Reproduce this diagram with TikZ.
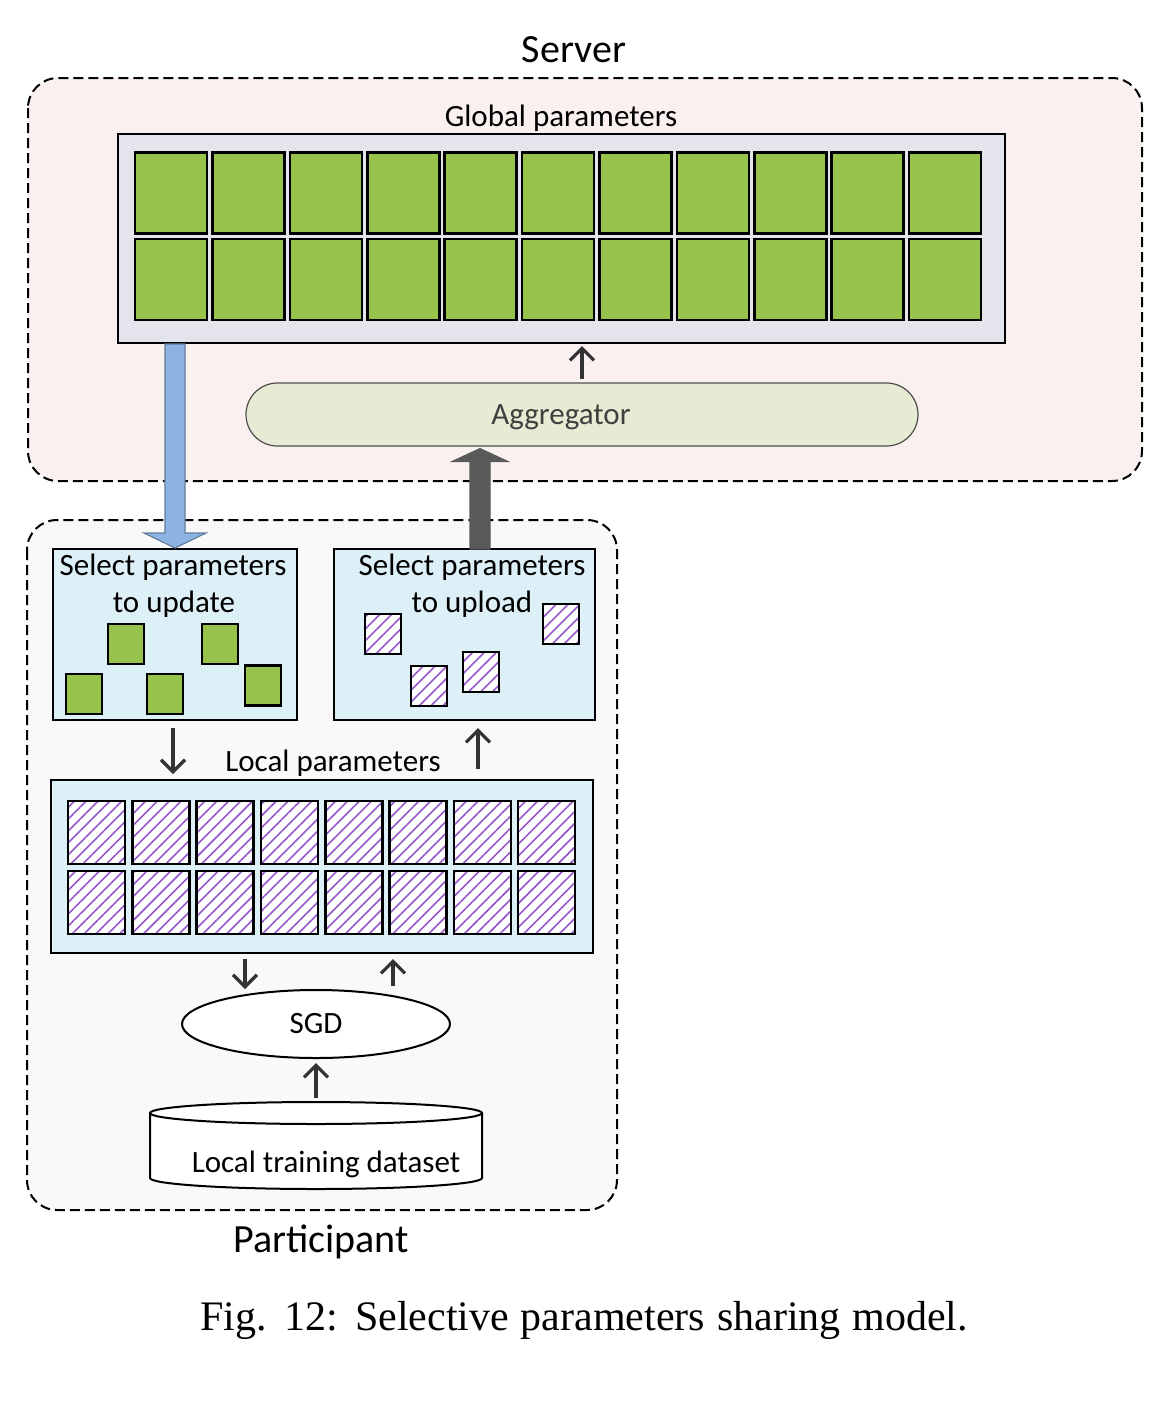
\documentclass[tikz,border=0pt]{standalone}
\usepackage{fontspec}
\setmainfont{Carlito}
\newfontfamily\capfont{Liberation Serif}
\usetikzlibrary{shapes.geometric,arrows.meta,calc,patterns.meta}

\definecolor{srvbg}{HTML}{FBF0F0}
\definecolor{partbg}{HTML}{F9F9F9}
\definecolor{globbg}{HTML}{E4E4EC}
\definecolor{parmgreen}{HTML}{97C34D}
\definecolor{panelbg}{HTML}{DEF0F7}
\definecolor{aggbg}{HTML}{E7EBD3}
\definecolor{downblue}{HTML}{8DB3E2}
\definecolor{upgray}{HTML}{595959}
\definecolor{hatch}{HTML}{9457CC}

\tikzset{
  zone/.style={draw, dash pattern=on 5pt off 2.5pt, line width=1pt, rounded corners=15pt},
  panel/.style={draw, line width=1pt, inner sep=0pt},
  gsq/.style={draw, fill=parmgreen, line width=1.3pt, inner sep=0pt},
  hsq/.style={draw, line width=1.3pt, inner sep=0pt, preaction={fill=white},
    pattern={Lines[angle=45, distance=4.2pt, line width=0.8pt]}, pattern color=hatch},
  lbl/.style={font=\fontsize{15.5}{18.5}\selectfont, inner sep=0pt},
  ttl/.style={font=\fontsize{20}{24}\selectfont, inner sep=0pt},
  flow/.style={-{Straight Barb[length=6pt, width=12pt]}, line width=1.6pt, draw=black!80},
}

\begin{document}
\begin{tikzpicture}[x=0.5pt, y=-0.5pt]
  \useasboundingbox (0,0) rectangle (1166,1410);

  % server side
  \draw[zone, fill=srvbg] (28,78) rectangle (1142,481);
  \node[ttl, anchor=base] (srv) at (574,62) {Server};
  \node[lbl, anchor=base] (globtext) at (561,126) {Global parameters};
  \node[panel, fill=globbg, minimum width=443.5pt, minimum height=104.5pt] (glob) at (561.5,238.5) {};
  \foreach \c in {0,...,10}
    \foreach \r/\y in {1/193, 2/279.5}
      \node[gsq, minimum width=36pt, minimum height=40.5pt] (g\r-\c) at ({171+77.4*\c},\y) {};

  \node[panel, fill=aggbg, draw=black!70, line width=0.6pt, rounded corners=15.75pt,
    minimum width=336pt, minimum height=31.5pt] (agg) at (582,414.5) {};
  \node[lbl, anchor=base, text=black!75] (aggtext) at (561,424) {Aggregator};
  \draw[flow, shorten <=1.5pt, shorten >=1pt] (agg.north) -- (agg.north |- glob.south);

  % participant side
  \draw[zone, fill=partbg] (27,520) rectangle (617,1210);
  \node[ttl, anchor=base] (part) at (321,1252) {Participant};

  \node[panel, fill=panelbg, minimum width=122pt, minimum height=85.5pt] (upd) at (175,634.5) {};
  \node[panel, fill=panelbg, minimum width=130.5pt, minimum height=85.5pt] (upl) at (464.5,634.5) {};
  \node[lbl, anchor=base] (upd-a) at (173,575) {Select parameters};
  \node[lbl, anchor=base] (upd-b) at (174,612) {to update};
  \node[lbl, anchor=base] (upl-a) at (472,575) {Select parameters};
  \node[lbl, anchor=base] (upl-b) at (472,612) {to upload};

  \foreach \x/\y [count=\i] in {126/644, 220/644, 84/694, 165/694, 263/685.5}
    \node[gsq, minimum width=18pt, minimum height=20pt] (s\i) at (\x,\y) {};
  \foreach \x/\y [count=\i] in {383/634, 561/624, 429/686, 481/672}
    \node[hsq, minimum width=18pt, minimum height=20pt] (u\i) at (\x,\y) {};

  \node[lbl, anchor=base] (loctext) at (333,771) {Local parameters};
  \node[panel, fill=panelbg, minimum width=271pt, minimum height=86.5pt] (loc) at (322,866.5) {};
  \foreach \c in {0,...,7}
    \foreach \r/\y in {1/832.5, 2/902.5}
      \node[hsq, minimum width=28.5pt, minimum height=31.5pt] (h\r-\c) at ({96.5+64.3*\c},\y) {};

  \node[draw, ellipse, line width=1pt, fill=white, inner sep=0pt, minimum width=134pt,
    minimum height=34pt, font=\fontsize{15.5}{18.5}\selectfont] (sgd) at (316,1024) {SGD};

  \filldraw[fill=white, line width=1pt] (150,1113) -- ++(0,-32.5pt)
    arc[start angle=180, end angle=360, x radius=83pt, y radius=5.5pt] -- (482,1113);
  \node[draw, ellipse, line width=1pt, fill=white, inner sep=0pt, minimum width=166pt,
    minimum height=11pt] (dtop) at (316,1113) {};
  \node[lbl, anchor=base] (dtext) at (326,1172) {Local training dataset};

  \coordinate (dnA) at (173,0);
  \coordinate (upA) at (478,0);
  \coordinate (dnB) at (245,0);
  \coordinate (upB) at (393,0);
  \draw[flow, shorten <=3.5pt, shorten >=2.5pt] (upd.south -| dnA) -- (dnA |- loc.north);
  \draw[flow, shorten <=5pt, shorten >=3.5pt] (loc.north -| upA) -- (upA |- upl.south);
  \draw[flow, shorten <=2.5pt, shorten >=0pt] (loc.south -| dnB) -- (dnB |- sgd.north);
  \draw[flow, shorten <=1.5pt, shorten >=2.5pt] (upB |- sgd.north) -- (loc.south -| upB);
  \draw[flow, shorten <=1.5pt, shorten >=2pt] (dtop.north) -- (sgd.south);

  % block arrows between server and participant
  \draw[fill=downblue, draw=downblue!70!black, line width=0.6pt]
    let \p1=(glob.south -| upd.north), \p2=(upd.north) in
    (\x1-5pt,\y1) -- (\x1-5pt,\y2+7.5pt) -- (\x1-15.5pt,\y2+7.5pt) -- (\x2,\y2)
    -- (\x1+15.5pt,\y2+7.5pt) -- (\x1+5pt,\y2+7.5pt) -- (\x1+5pt,\y1) -- cycle;
  \coordinate (upfoot) at (480,549);
  \draw[fill=upgray, draw=upgray, line width=0.6pt]
    let \p1=(upfoot), \p2=(upfoot |- agg.south) in
    (\x1-5pt,\y1) -- (\x1-5pt,\y2-7.5pt) -- (\x1-14pt,\y2-7.5pt) -- (\x1,\y2-1pt)
    -- (\x1+14pt,\y2-7.5pt) -- (\x1+5pt,\y2-7.5pt) -- (\x1+5pt,\y1) -- cycle;

  \node[font=\capfont\fontsize{21}{25}\selectfont, anchor=base, inner sep=0pt] (cap) at (584,1330)
    {\makebox[384pt][s]{Fig. 12: Selective parameters sharing model.}};
\end{tikzpicture}
\end{document}
